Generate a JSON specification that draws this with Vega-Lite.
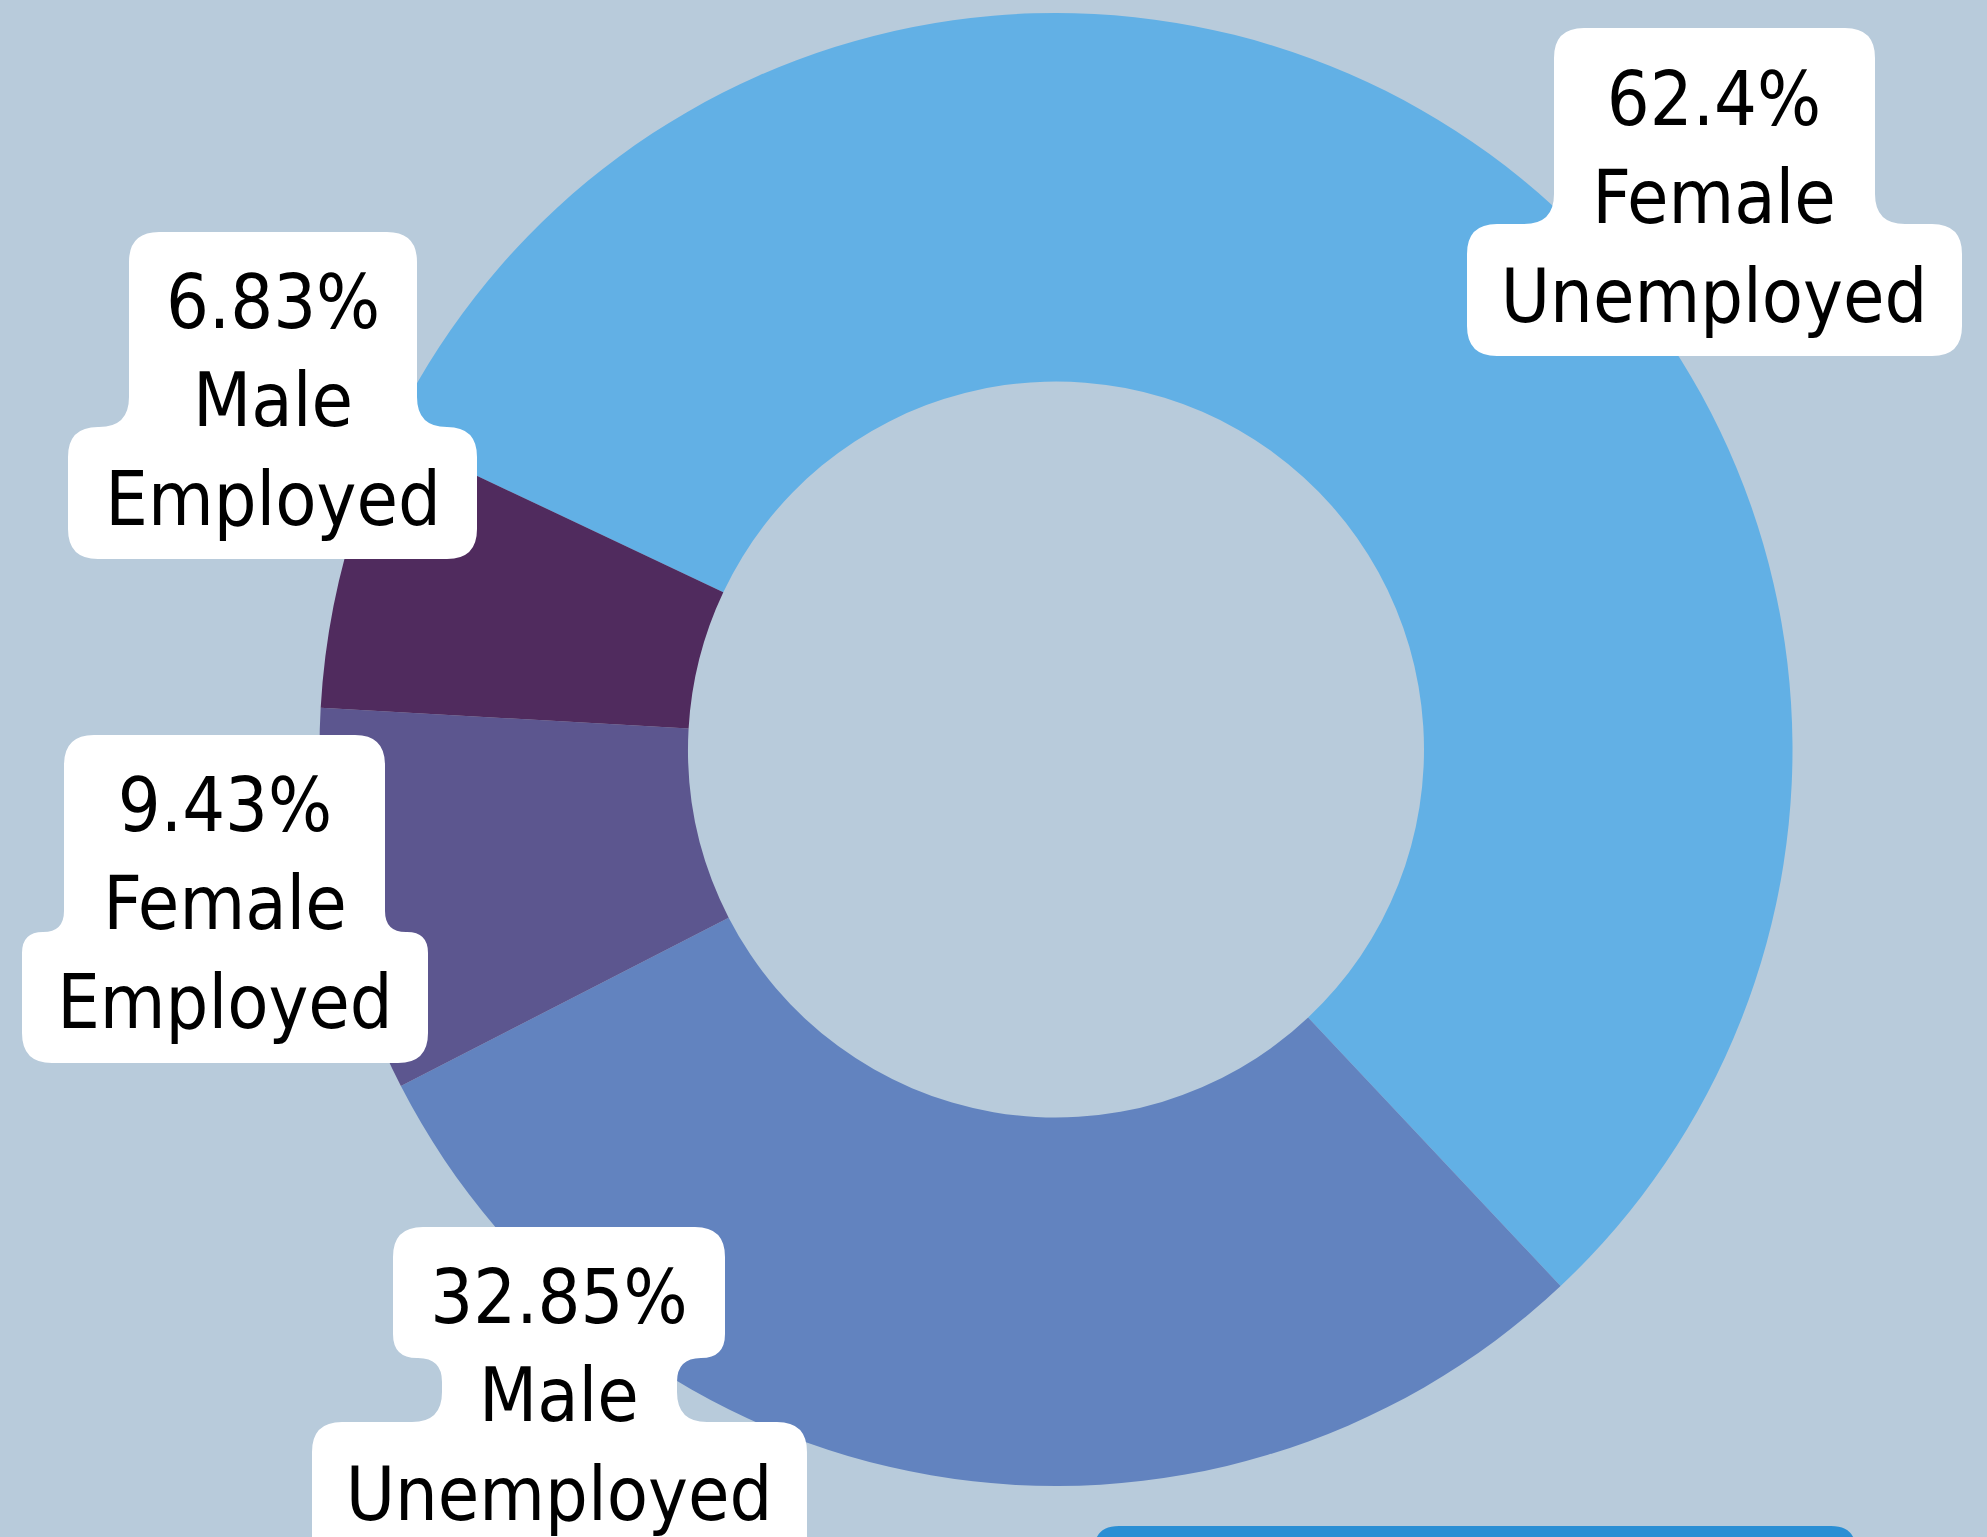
{
  "$schema": "https://vega.github.io/schema/vega-lite/v6.json",
  "background": "#b8cbdb",
  "autosize": {"type": "none"},
  "width": 1862,
  "height": 1499,
  "padding": {"left": 125, "top": 0, "right": 0, "bottom": 38},
  "config": {"view": {"stroke": null}},
  "data": {"values": [
    {"category": "Female Unemployed", "value": 62.4},
    {"category": "Male Unemployed", "value": 32.85},
    {"category": "Female Employed", "value": 9.43},
    {"category": "Male Employed", "value": 6.83}
  ]},
  "transform": [{"calculate": "datum.value + '%|' + replace(datum.category, ' ', '|')", "as": "label"}],
  "layer": [
    {
      "mark": {"type": "arc", "innerRadius": 368, "outerRadius": 736.5},
      "encoding": {
        "theta": {"field": "value", "type": "quantitative", "stack": true, "scale": {"range": [-1.1292, 5.154]}},
        "order": {"field": "value", "sort": "descending"},
        "color": {"field": "category", "type": "nominal", "legend": null,
          "scale": {"domain": ["Female Unemployed", "Male Unemployed", "Female Employed", "Male Employed"],
                    "range": ["#62b0e5", "#6283bf", "#5c568f", "#502b5e"]}}
      }
    },
    {
      "mark": {"type": "point", "filled": true, "fill": "#ffffff", "opacity": 1, "size": 4, "strokeWidth": 0},
      "encoding": {
        "shape": {"field": "category", "type": "nominal", "legend": null,
          "scale": {"domain": ["Female Unemployed", "Male Unemployed", "Female Employed", "Male Employed"],
            "range": [
              "M528,-721.5L789,-721.5Q819,-721.5 819,-691.5L819,-555.5Q819,-525.5 849,-525.5L876,-525.5Q906,-525.5 906,-495.5L906,-423.5Q906,-393.5 876,-393.5L441,-393.5Q411,-393.5 411,-423.5L411,-495.5Q411,-525.5 441,-525.5L468,-525.5Q498,-525.5 498,-555.5L498,-691.5Q498,-721.5 528,-721.5Z",
              "M-633,477.5L-361,477.5Q-331,477.5 -331,507.5L-331,584.5Q-331,608.5 -355,608.5Q-379,608.5 -379,632.5L-379,642.5Q-379,672.5 -349,672.5L-279,672.5Q-249,672.5 -249,702.5L-249,820.5L-744,820.5L-744,702.5Q-744,672.5 -714,672.5L-644,672.5Q-614,672.5 -614,642.5L-614,632.5Q-614,608.5 -638,608.5L-639,608.5Q-663,608.5 -663,584.5L-663,507.5Q-663,477.5 -633,477.5Z",
              "M-962,-14.5L-701,-14.5Q-671,-14.5 -671,15.5L-671,161.5Q-671,182.5 -650,182.5L-649,182.5Q-628,182.5 -628,203.5L-628,283.5Q-628,313.5 -658,313.5L-1004,313.5Q-1034,313.5 -1034,283.5L-1034,203.5Q-1034,182.5 -1013,182.5Q-992,182.5 -992,161.5L-992,15.5Q-992,-14.5 -962,-14.5Z",
              "M-897,-517.5L-669,-517.5Q-639,-517.5 -639,-487.5L-639,-352.5Q-639,-322.5 -609,-322.5Q-579,-322.5 -579,-292.5L-579,-220.5Q-579,-190.5 -609,-190.5L-958,-190.5Q-988,-190.5 -988,-220.5L-988,-292.5Q-988,-322.5 -958,-322.5L-957,-322.5Q-927,-322.5 -927,-352.5L-927,-487.5Q-927,-517.5 -897,-517.5Z"
            ]}}
      }
    },
    {
      "data": {"values": [{"item": "button"}]},
      "mark": {"type": "point", "filled": true, "fill": "#2b8fd4", "opacity": 1, "size": 4, "strokeWidth": 0,
        "shape": "M63,776.5L775,776.5Q800,776.5 800,801.5L800,830L38,830L38,801.5Q38,776.5 63,776.5Z"},
      "encoding": {}
    },
    {
      "mark": {"type": "text", "radius": 600, "dx": 305.1, "dy": -139.3, "font": "DejaVu Sans Condensed, Roboto, sans-serif", "fontSize": 75, "lineHeight": 98.5, "lineBreak": "|", "align": "center", "baseline": "alphabetic", "fill": "#000000"},
      "encoding": {
        "theta": {"field": "value", "type": "quantitative", "stack": true, "scale": {"range": [-1.1292, 5.154]}},
        "order": {"field": "value", "sort": "descending"},
        "detail": {"field": "category"},
        "text": {"condition": {"test": "datum.category === 'Female Unemployed'", "field": "label", "type": "nominal"}, "value": ""}
      }
    },
    {
      "mark": {"type": "text", "radius": 600, "dx": -395.1, "dy": -17.8, "font": "DejaVu Sans Condensed, Roboto, sans-serif", "fontSize": 75, "lineHeight": 98.5, "lineBreak": "|", "align": "center", "baseline": "alphabetic", "fill": "#000000"},
      "encoding": {
        "theta": {"field": "value", "type": "quantitative", "stack": true, "scale": {"range": [-1.1292, 5.154]}},
        "order": {"field": "value", "sort": "descending"},
        "detail": {"field": "category"},
        "text": {"condition": {"test": "datum.category === 'Male Unemployed'", "field": "label", "type": "nominal"}, "value": ""}
      }
    },
    {
      "mark": {"type": "text", "radius": 600, "dx": -244.1, "dy": -43.1, "font": "DejaVu Sans Condensed, Roboto, sans-serif", "fontSize": 75, "lineHeight": 98.5, "lineBreak": "|", "align": "center", "baseline": "alphabetic", "fill": "#000000"},
      "encoding": {
        "theta": {"field": "value", "type": "quantitative", "stack": true, "scale": {"range": [-1.1292, 5.154]}},
        "order": {"field": "value", "sort": "descending"},
        "detail": {"field": "category"},
        "text": {"condition": {"test": "datum.category === 'Female Employed'", "field": "label", "type": "nominal"}, "value": ""}
      }
    },
    {
      "mark": {"type": "text", "radius": 600, "dx": -201.5, "dy": -273.6, "font": "DejaVu Sans Condensed, Roboto, sans-serif", "fontSize": 75, "lineHeight": 98.5, "lineBreak": "|", "align": "center", "baseline": "alphabetic", "fill": "#000000"},
      "encoding": {
        "theta": {"field": "value", "type": "quantitative", "stack": true, "scale": {"range": [-1.1292, 5.154]}},
        "order": {"field": "value", "sort": "descending"},
        "detail": {"field": "category"},
        "text": {"condition": {"test": "datum.category === 'Male Employed'", "field": "label", "type": "nominal"}, "value": ""}
      }
    }
  ]
}
